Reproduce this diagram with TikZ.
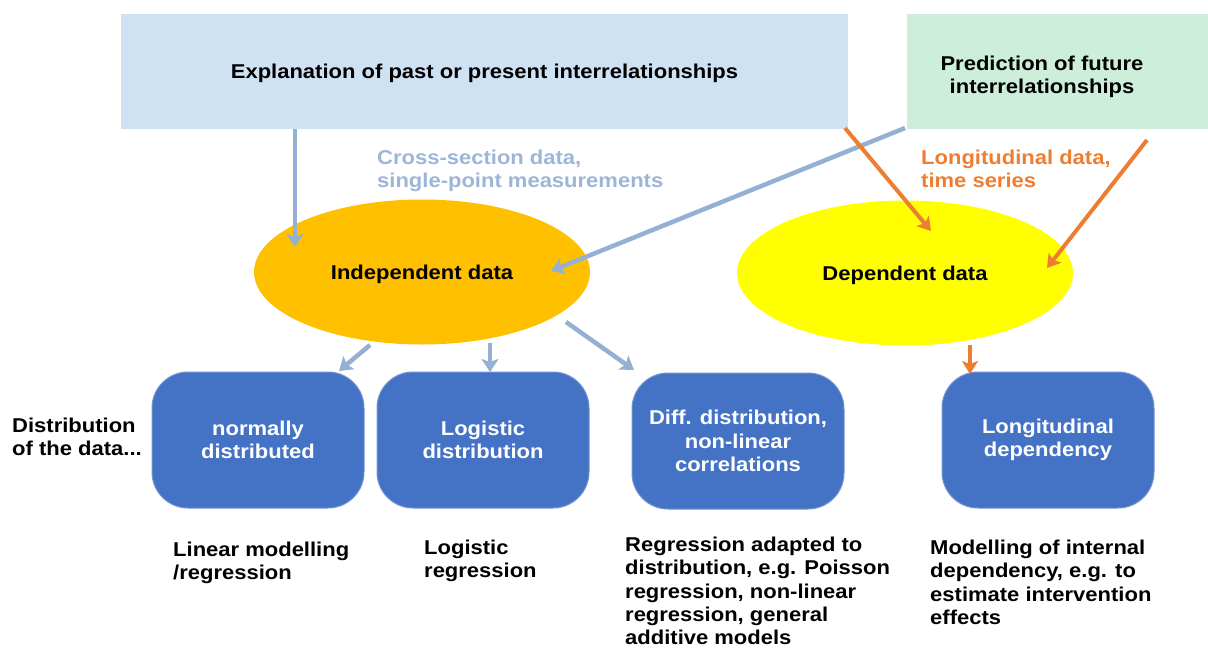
\documentclass[tikz,border=0pt]{standalone}
\usepackage{fontspec}
\setmainfont{Liberation Sans}[FakeStretch=1.1]
\usetikzlibrary{arrows.meta,shapes.geometric}
\definecolor{topblue}{HTML}{CFE2F3}
\definecolor{topgreen}{HTML}{CDEEDB}
\definecolor{arrblue}{HTML}{95B0D2}
\definecolor{txtblue}{HTML}{9DB5D6}
\definecolor{arrorange}{HTML}{ED7D31}
\definecolor{boxblue}{HTML}{4472C4}
\definecolor{indfill}{HTML}{FFC000}
\definecolor{depfill}{HTML}{FFFF00}
\tikzset{
  txt/.style={font=\bfseries\fontsize{20}{23.2}\selectfont, inner sep=0pt},
  toprect/.style={txt, minimum height=115pt, inner sep=0pt, draw=none, text depth=0pt},
  ell/.style={txt, ellipse, minimum width=336pt, minimum height=145pt, inner sep=0pt, text depth=0pt},
  bbox/.style={txt, fill=boxblue, draw=boxblue!75!white, line width=1pt, rounded corners=36pt,
    minimum width=212pt, minimum height=136pt, text=white, align=center},
  lefttxt/.style={txt, anchor=north west, align=left},
  barr/.style={draw=arrblue, line width=4.5pt, -{Stealth[length=13pt,width=17pt,inset=3pt]}},
  oarr/.style={draw=arrorange, line width=4pt, -{Stealth[length=13pt,width=16pt,inset=3pt]}}
}
\begin{document}
\begin{tikzpicture}[x=1pt,y=-1pt]
\useasboundingbox (0,0) rectangle (1208,648);
% top rectangles
\node[toprect, fill=topblue, minimum width=727pt] (top1) at (484.5,71.5) {Explanation of past or present interrelationships};
\node[toprect, fill=topgreen, minimum width=301pt] (top2) at (1057.5,71.5) {};
\node[txt, align=center] (top2txt) at (1042,76.5) {Prediction of future\\interrelationships};
% ellipses
\node[ell, fill=indfill] (ind) at (422,272) {Independent data};
\node[ell, fill=depfill] (dep) at (905,273) {Dependent data};
% boxes
\node[bbox] (b1) at (258,440) {normally\\distributed};
\node[bbox] (b2) at (483,440) {Logistic\\distribution};
\node[bbox] (b3) at (738,441) {Diff. distribution,\\non-linear\\correlations};
\node[bbox] (b4) at (1048,440) {Longitudinal\\dependency};
% labels
\node[lefttxt, text=txtblue] (cross) at (377,150) {Cross-section data,\\single-point measurements};
\node[lefttxt, text=arrorange] (longi) at (921,150) {Longitudinal data,\\time series};
\node[lefttxt] (dist) at (12,418) {Distribution\\of the data...};
\node[lefttxt] (t1) at (173,542) {Linear modelling\\/regression};
\node[lefttxt] (t2) at (424,540) {Logistic\\regression};
\node[lefttxt] (t3) at (625,537) {Regression adapted to\\distribution, e.g. Poisson\\regression, non-linear\\regression, general\\additive models};
\node[lefttxt] (t4) at (930,540) {Modelling of internal\\dependency, e.g. to\\estimate intervention\\effects};
% arrow end points
\coordinate (a1s) at (top1.south -| 295,0);
\coordinate (a1e) at (295,247);
\coordinate (a2s) at (905,128);
\coordinate (a2e) at (551,271);
\coordinate (a3s) at (370,345);
\coordinate (a3e) at (339,371);
\coordinate (a4s) at (490,343);
\coordinate (a4e) at (490,372);
\coordinate (a5s) at (566,322);
\coordinate (a5e) at (634,370);
\coordinate (a6s) at (845,128);
\coordinate (a6e) at (931,231);
\coordinate (a7s) at (1147,140);
\coordinate (a7e) at (1047,268);
\coordinate (a8s) at (970,345);
\coordinate (a8e) at (970,374);
% arrows
\draw[barr] (a1s) -- (a1e);
\draw[barr] (a2s) -- (a2e);
\draw[barr] (a3s) -- (a3e);
\draw[barr] (a4s) -- (a4e);
\draw[barr] (a5s) -- (a5e);
\draw[oarr] (a6s) -- (a6e);
\draw[oarr] (a7s) -- (a7e);
\draw[oarr] (a8s) -- (a8e);
\end{tikzpicture}
\end{document}
